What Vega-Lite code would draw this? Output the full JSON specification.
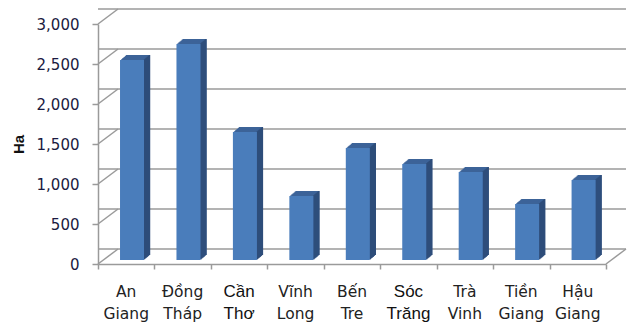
{
  "$schema": "https://vega.github.io/schema/vega-lite/v6.json",
  "width": 508,
  "height": 240,
  "autosize": "none",
  "padding": {"left": 98, "top": 24, "right": 31, "bottom": 65},
  "background": "white",
  "config": {
    "view": {"stroke": null},
    "axis": {"grid": false}
  },
  "resolve": {"axis": {"y": "independent", "x": "independent"}},
  "datasets": {
    "grid": [{"v": 0}, {"v": 500}, {"v": 1000}, {"v": 1500}, {"v": 2000}, {"v": 2500}, {"v": 3000}],
    "floor": [{"v": 0}],
    "areas": [
      {"name": "An Giang", "value": 2500},
      {"name": "Đồng Tháp", "value": 2700},
      {"name": "Cần Thơ", "value": 1600},
      {"name": "Vĩnh Long", "value": 800},
      {"name": "Bến Tre", "value": 1400},
      {"name": "Sóc Trăng", "value": 1200},
      {"name": "Trà Vinh", "value": 1100},
      {"name": "Tiền Giang", "value": 700},
      {"name": "Hậu Giang", "value": 1000}
    ]
  },
  "layer": [
    {
      "data": {"name": "grid"},
      "mark": {"type": "rule", "color": "#9a9a9a", "strokeWidth": 1.5, "xOffset": 20, "x2Offset": 20, "yOffset": -15},
      "encoding": {
        "y": {
          "field": "v", "type": "quantitative",
          "scale": {"domain": [0, 3000], "nice": false},
          "axis": {
            "title": "Ha",
            "titleFont": "Liberation Sans",
            "titleFontSize": 15,
            "titleFontWeight": "bold",
            "titleColor": "#111111",
            "titlePadding": 10,
            "values": [0, 500, 1000, 1500, 2000, 2500, 3000],
            "format": ",.0f",
            "labelFont": "DejaVu Sans",
            "labelFontSize": 15,
            "labelColor": "#1a1a40",
            "labelPadding": 13,
            "tickSize": 6,
            "tickColor": "#9a9a9a",
            "tickWidth": 1.5,
            "domainColor": "#9a9a9a",
            "domainWidth": 1.5
          }
        }
      }
    },
    {
      "data": {"name": "grid"},
      "mark": {"type": "rule", "color": "#9a9a9a", "strokeWidth": 1.5, "x2Offset": 20, "y2Offset": -15},
      "encoding": {
        "x": {"value": 0},
        "x2": {"value": 0},
        "y": {"field": "v", "type": "quantitative", "axis": null},
        "y2": {"field": "v"}
      }
    },
    {
      "data": {"name": "floor"},
      "mark": {"type": "rule", "color": "#9a9a9a", "strokeWidth": 1.5, "x2Offset": 20, "y2Offset": -15},
      "encoding": {
        "x": {"value": "width"},
        "x2": {"value": "width"},
        "y": {"field": "v", "type": "quantitative", "axis": null},
        "y2": {"field": "v"}
      }
    },
    {
      "data": {"name": "areas"},
      "resolve": {"axis": {"x": "independent", "y": "independent"}},
      "encoding": {
        "x": {"field": "name", "type": "nominal", "sort": null, "scale": {"paddingInner": 0, "paddingOuter": 0}, "axis": null},
        "y": {"field": "value", "type": "quantitative", "axis": null},
        "y2": {"datum": 0}
      },
      "layer": [
        {"mark": {"type": "bar", "width": 24, "color": "#3d6398", "xOffset": 11.8, "yOffset": -9, "y2Offset": -9}},
        {"mark": {"type": "bar", "width": 24, "color": "#3d6398", "xOffset": 10.8, "yOffset": -8.2, "y2Offset": -8.2}},
        {"mark": {"type": "bar", "width": 24, "color": "#3d6398", "xOffset": 9.8, "yOffset": -7.3, "y2Offset": -7.3}},
        {"mark": {"type": "bar", "width": 24, "color": "#3d6398", "xOffset": 8.8, "yOffset": -6.5, "y2Offset": -6.5}},
        {"mark": {"type": "bar", "width": 24, "color": "#3d6398", "xOffset": 7.8, "yOffset": -5.7, "y2Offset": -5.7}},
        {"mark": {"type": "bar", "width": 24, "color": "#3d6398", "xOffset": 6.8, "yOffset": -4.8, "y2Offset": -4.8}},
        {"mark": {"type": "bar", "width": 1.4, "color": "#2e4d7a", "xOffset": 18.3, "yOffset": -4.8, "y2Offset": -4.8}},
        {"mark": {"type": "bar", "width": 1.4, "color": "#2e4d7a", "xOffset": 19.3, "yOffset": -5.7, "y2Offset": -5.7}},
        {"mark": {"type": "bar", "width": 1.4, "color": "#2e4d7a", "xOffset": 20.3, "yOffset": -6.5, "y2Offset": -6.5}},
        {"mark": {"type": "bar", "width": 1.4, "color": "#2e4d7a", "xOffset": 21.3, "yOffset": -7.3, "y2Offset": -7.3}},
        {"mark": {"type": "bar", "width": 1.4, "color": "#2e4d7a", "xOffset": 22.3, "yOffset": -8.2, "y2Offset": -8.2}},
        {"mark": {"type": "bar", "width": 1.4, "color": "#2e4d7a", "xOffset": 23.3, "yOffset": -9, "y2Offset": -9}},
        {
          "mark": {"type": "bar", "width": 24, "color": "#4a7dbb", "xOffset": 5.8, "yOffset": -4, "y2Offset": -4},
          "encoding": {
            "x": {
              "field": "name", "type": "nominal", "sort": null, "title": null,
              "axis": {
                "labels": false,
                "tickBand": "extent",
                "tickSize": 5,
                "tickColor": "#9a9a9a",
                "tickWidth": 1.5,
                "domainColor": "#9a9a9a",
                "domainWidth": 1.5
              }
            }
          }
        }
      ]
    },
    {
      "data": {"name": "areas"},
      "transform": [{"filter": "!test(/^[CS]/, datum.name)"}],
      "mark": {"type": "text", "font": "DejaVu Sans", "fontSize": 15.5, "color": "#222222", "align": "center", "baseline": "alphabetic", "lineBreak": " ", "lineHeight": 22, "dy": 33},
      "encoding": {
        "x": {"field": "name", "type": "nominal", "sort": null, "axis": null},
        "y": {"datum": 0, "type": "quantitative", "axis": null},
        "text": {"field": "name"}
      }
    },
    {
      "data": {"name": "areas"},
      "transform": [{"filter": "test(/^[CS]/, datum.name)"}],
      "mark": {"type": "text", "font": "Liberation Sans", "fontSize": 17, "color": "#111111", "align": "center", "baseline": "alphabetic", "lineBreak": " ", "lineHeight": 22, "dy": 33},
      "encoding": {
        "x": {"field": "name", "type": "nominal", "sort": null, "axis": null},
        "y": {"datum": 0, "type": "quantitative", "axis": null},
        "text": {"field": "name"}
      }
    }
  ]
}
